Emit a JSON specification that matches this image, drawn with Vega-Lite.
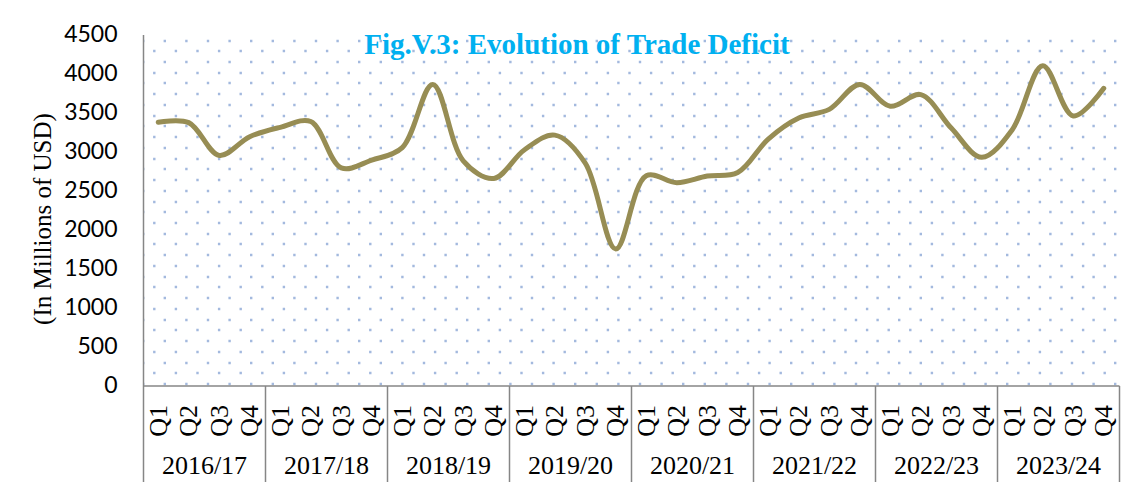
{
  "$schema": "https://vega.github.io/schema/vega-lite/v6.json",
  "width": 976,
  "height": 351,
  "autosize": "none",
  "padding": {"left": 143, "top": 34.5, "right": 21, "bottom": 107.5},
  "background": "white",
  "title": {
    "text": "Fig.V.3: Evolution of Trade Deficit",
    "font": "Liberation Serif",
    "fontSize": 29,
    "fontWeight": "bold",
    "color": "#00B0F0",
    "anchor": "middle",
    "frame": "group",
    "baseline": "alphabetic",
    "offset": -40,
    "dx": -54,
    "dy": 19
  },
  "data": {
    "values": [
      {"year": "2016/17", "q": "Q1", "key": "2016/17 Q1", "value": 3375},
      {"year": "2016/17", "q": "Q2", "key": "2016/17 Q2", "value": 3370},
      {"year": "2016/17", "q": "Q3", "key": "2016/17 Q3", "value": 2950},
      {"year": "2016/17", "q": "Q4", "key": "2016/17 Q4", "value": 3190},
      {"year": "2017/18", "q": "Q1", "key": "2017/18 Q1", "value": 3310},
      {"year": "2017/18", "q": "Q2", "key": "2017/18 Q2", "value": 3385},
      {"year": "2017/18", "q": "Q3", "key": "2017/18 Q3", "value": 2790},
      {"year": "2017/18", "q": "Q4", "key": "2017/18 Q4", "value": 2890},
      {"year": "2018/19", "q": "Q1", "key": "2018/19 Q1", "value": 3050},
      {"year": "2018/19", "q": "Q2", "key": "2018/19 Q2", "value": 3860},
      {"year": "2018/19", "q": "Q3", "key": "2018/19 Q3", "value": 2880},
      {"year": "2018/19", "q": "Q4", "key": "2018/19 Q4", "value": 2655},
      {"year": "2019/20", "q": "Q1", "key": "2019/20 Q1", "value": 3020},
      {"year": "2019/20", "q": "Q2", "key": "2019/20 Q2", "value": 3210},
      {"year": "2019/20", "q": "Q3", "key": "2019/20 Q3", "value": 2850},
      {"year": "2019/20", "q": "Q4", "key": "2019/20 Q4", "value": 1750},
      {"year": "2020/21", "q": "Q1", "key": "2020/21 Q1", "value": 2690},
      {"year": "2020/21", "q": "Q2", "key": "2020/21 Q2", "value": 2600},
      {"year": "2020/21", "q": "Q3", "key": "2020/21 Q3", "value": 2685},
      {"year": "2020/21", "q": "Q4", "key": "2020/21 Q4", "value": 2730},
      {"year": "2021/22", "q": "Q1", "key": "2021/22 Q1", "value": 3160},
      {"year": "2021/22", "q": "Q2", "key": "2021/22 Q2", "value": 3430},
      {"year": "2021/22", "q": "Q3", "key": "2021/22 Q3", "value": 3540},
      {"year": "2021/22", "q": "Q4", "key": "2021/22 Q4", "value": 3860},
      {"year": "2022/23", "q": "Q1", "key": "2022/23 Q1", "value": 3580},
      {"year": "2022/23", "q": "Q2", "key": "2022/23 Q2", "value": 3730},
      {"year": "2022/23", "q": "Q3", "key": "2022/23 Q3", "value": 3300},
      {"year": "2022/23", "q": "Q4", "key": "2022/23 Q4", "value": 2925},
      {"year": "2023/24", "q": "Q1", "key": "2023/24 Q1", "value": 3280},
      {"year": "2023/24", "q": "Q2", "key": "2023/24 Q2", "value": 4100},
      {"year": "2023/24", "q": "Q3", "key": "2023/24 Q3", "value": 3455},
      {"year": "2023/24", "q": "Q4", "key": "2023/24 Q4", "value": 3810}
    ]
  },
  "layer": [
    {
      "mark": {"type": "point", "opacity": 0},
      "encoding": {
        "x": {
          "field": "year",
          "type": "ordinal",
          "sort": null,
          "scale": {"type": "band", "paddingInner": 0, "paddingOuter": 0},
          "axis": {
            "orient": "bottom",
            "title": null,
            "labelAngle": 0,
            "labelFont": "Liberation Serif",
            "labelFontSize": 26,
            "labelColor": "black",
            "ticks": true,
            "tickBand": "extent",
            "tickSize": 96,
            "tickColor": "#868686",
            "tickWidth": 1.5,
            "labelPadding": -29,
            "domain": false,
            "grid": false
          }
        }
      }
    },
    {
      "mark": {
        "type": "line",
        "interpolate": "catmull-rom",
        "color": "#978D54",
        "strokeWidth": 5,
        "strokeCap": "round",
        "strokeJoin": "round"
      },
      "encoding": {
        "x": {
          "field": "key",
          "type": "ordinal",
          "sort": null,
          "scale": {"type": "point", "padding": 0.5},
          "axis": {
            "orient": "bottom",
            "title": null,
            "labelExpr": "split(datum.label, ' ')[1]",
            "labelAngle": 270,
            "labelFont": "Liberation Serif",
            "labelFontSize": 26,
            "labelColor": "black",
            "labelPadding": 19,
            "ticks": false,
            "domain": true,
            "domainColor": "#868686",
            "domainWidth": 1.5,
            "grid": false
          }
        },
        "y": {
          "field": "value",
          "type": "quantitative",
          "scale": {"domain": [0, 4500], "nice": false},
          "axis": {
            "orient": "left",
            "title": "(In Millions of USD)",
            "titleFont": "Liberation Serif",
            "titleFontSize": 25,
            "titleFontWeight": "normal",
            "titleColor": "black",
            "titlePadding": 8,
            "titleY": 184,
            "values": [0, 500, 1000, 1500, 2000, 2500, 3000, 3500, 4000, 4500, 25.6, 163.2, 300.8, 438.4, 576, 713.6, 851.2, 988.8, 1126.4, 1264, 1401.6, 1539.2, 1676.8, 1814.4, 1952, 2089.6, 2227.2, 2364.8, 2502.4, 2640, 2777.6, 2915.2, 3052.8, 3190.4, 3328, 3465.6, 3603.2, 3740.8, 3878.4, 4016, 4153.6, 4291.2, 4428.8],
            "format": "d",
            "labelExpr": "datum.value % 500 == 0 ? datum.label : ''",
            "labelFont": "Lato",
            "labelFontSize": 23,
            "labelColor": "black",
            "labelPadding": 26,
            "labelOverlap": false,
            "labelBound": false,
            "labelFlush": false,
            "ticks": false,
            "domain": true,
            "domainColor": "#868686",
            "domainWidth": 1.5,
            "grid": true,
            "gridColor": "#A3B9DE",
            "gridWidth": 2.6,
            "gridDash": [2.4, 19.2],
            "gridDashOffset": {"condition": {"test": "round((datum.value - 25.6) / 137.6) % 2 == 0", "value": 1.5}, "value": 12.0},
            "gridOpacity": {"condition": {"test": "datum.value % 500 == 0", "value": 0}, "value": 1}
          }
        }
      }
    }
  ],
  "resolve": {"scale": {"x": "independent"}},
  "config": {"view": {"stroke": null}}
}
